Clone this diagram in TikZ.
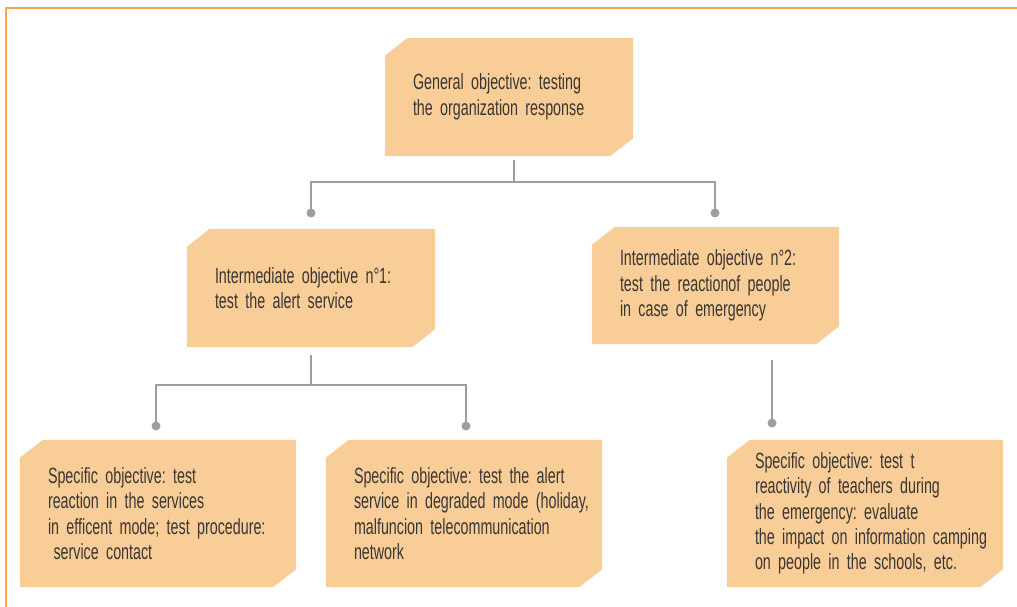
\documentclass[tikz,border=0pt]{standalone}
\usepackage{fontspec}
\newfontfamily\dinfont{Liberation Sans}[FakeStretch=0.65]
\usetikzlibrary{backgrounds}
\definecolor{boxfill}{RGB}{249,205,151}
\definecolor{txt}{RGB}{58,54,50}
\definecolor{conncol}{RGB}{158,158,160}
\definecolor{framecol}{RGB}{247,165,75}
\begin{document}
\begin{tikzpicture}[x=1pt,y=-1pt,
  objbox/.style={draw=none, inner xsep=1pt, inner ysep=0pt,
    text width=#1-2pt, minimum width=#1, text=txt,
    font=\dinfont\fontsize{22}{25.4}\selectfont\frenchspacing,
    execute at begin node={\raggedright\leftskip=27pt\hyphenpenalty=10000\relax}},
  conn/.style={draw=conncol, line width=2.8pt},
  dotc/.style={fill=conncol}]
\useasboundingbox (0,0) rectangle (1017,607);
\draw[framecol, line width=1.6pt] (6,607) -- (6,8) -- (1017,8);

\node[objbox=248pt, minimum height=118pt] (g) at (509,97)
  {General objective: testing\\the organization response};
\node[objbox=248pt, minimum height=118pt] (i1) at (311,288)
  {Intermediate objective n°1:\\test the alert service};
\node[objbox=247pt, minimum height=117pt] (i2) at (715.5,285.5)
  {Intermediate objective n°2:\\test the reactionof people\\in case of emergency};
\node[objbox=276pt, minimum height=147pt] (s1) at (158,513.5)
  {Specific objective: test\\reaction in the services\\in efficent mode; test procedure:\\\hspace*{0.25em}service contact};
\node[objbox=276pt, minimum height=147pt] (s2) at (464,513.5)
  {Specific objective: test the alert\\service in degraded mode (holiday,\\malfuncion telecommunication\\network};
\node[objbox=276pt, minimum height=147pt] (s3) at (865,513.5)
  {Specific objective: test t\\reactivity of teachers during\\the emergency: evaluate\\the impact on information camping\\on people in the schools, etc.};

\begin{scope}[on background layer]
\foreach \n in {g,i1,i2,s1,s2,s3}{
  \fill[boxfill] ([yshift=-18pt]\n.north west) -- ([xshift=23pt]\n.north west)
    -- (\n.north east) -- ([yshift=18pt]\n.south east)
    -- ([xshift=-23pt]\n.south east) -- (\n.south west) -- cycle;
}
\end{scope}

% connectors
\coordinate (g0) at (514,160);
\coordinate (j1) at (514,182);
\coordinate (d1) at (311,213);
\coordinate (d2) at (715,213);
\draw[conn] (g0) -- (j1);
\draw[conn] (d1) |- (j1) -| (d2);
\fill[dotc] (d1) circle (4.5);
\fill[dotc] (d2) circle (4.5);

\coordinate (i10) at (311,355);
\coordinate (j2) at (311,385);
\coordinate (d3) at (156,426);
\coordinate (d4) at (466,426);
\draw[conn] (i10) -- (j2);
\draw[conn] (d3) |- (j2) -| (d4);
\fill[dotc] (d3) circle (4.5);
\fill[dotc] (d4) circle (4.5);

\coordinate (i20) at (772,360);
\coordinate (d5) at (772,423);
\draw[conn] (i20) -- (d5);
\fill[dotc] (d5) circle (4.5);
\end{tikzpicture}
\end{document}
